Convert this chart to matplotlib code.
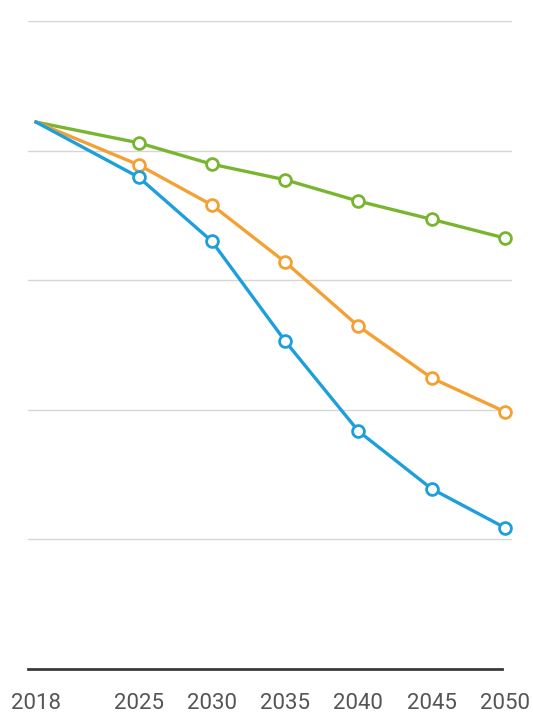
import matplotlib
matplotlib.use("Agg")
import matplotlib.pyplot as plt

years = [2018, 2025, 2030, 2035, 2040, 2045, 2050]
green = [84.4, 81.2, 77.9, 75.5, 72.2, 69.4, 66.5]
orange = [84.4, 77.8, 71.6, 62.8, 52.9, 44.9, 39.7]
blue = [84.4, 75.9, 66.0, 50.6, 36.7, 27.8, 21.8]
tick_labels = ["2018", "2025", "2030", "2035", "2040", "2045", "2050"]
grid_vals = [20, 40, 60, 80, 100]

fig = plt.figure(figsize=(5.33, 7.16), dpi=100)
ax = fig.add_axes([28/533, 1-669/716, (512-28)/533, (669-21)/716])

for yv in grid_vals:
    ax.axhline(yv, color="#d6d6d6", lw=1.0, zorder=1)
ax.plot([2017.45, 2049.8], [0, 0], color="#3a3a3a", lw=2.0, zorder=2, clip_on=False)

series = [(green, "#7ab530"), (orange, "#f4a133"), (blue, "#1d9fdb")]
for vals, c in series:
    ax.plot(years, vals, color=c, lw=2.4, zorder=3)
    ax.plot(years[1:], vals[1:], ls="none", marker="o", ms=8.5, mfc="white",
            mec=c, mew=2.0, zorder=4)

ax.set_xlim(2017.45, 2050.48)
ax.set_ylim(0, 100)
ax.set_xticks(years)
ax.set_xticklabels(tick_labels, fontfamily="Roboto", fontsize=16, color="#555555")
ax.tick_params(axis="x", length=0, pad=17)
ax.set_yticks([])
for s in ax.spines.values():
    s.set_visible(False)

fig.savefig("out.png", dpi=100)
